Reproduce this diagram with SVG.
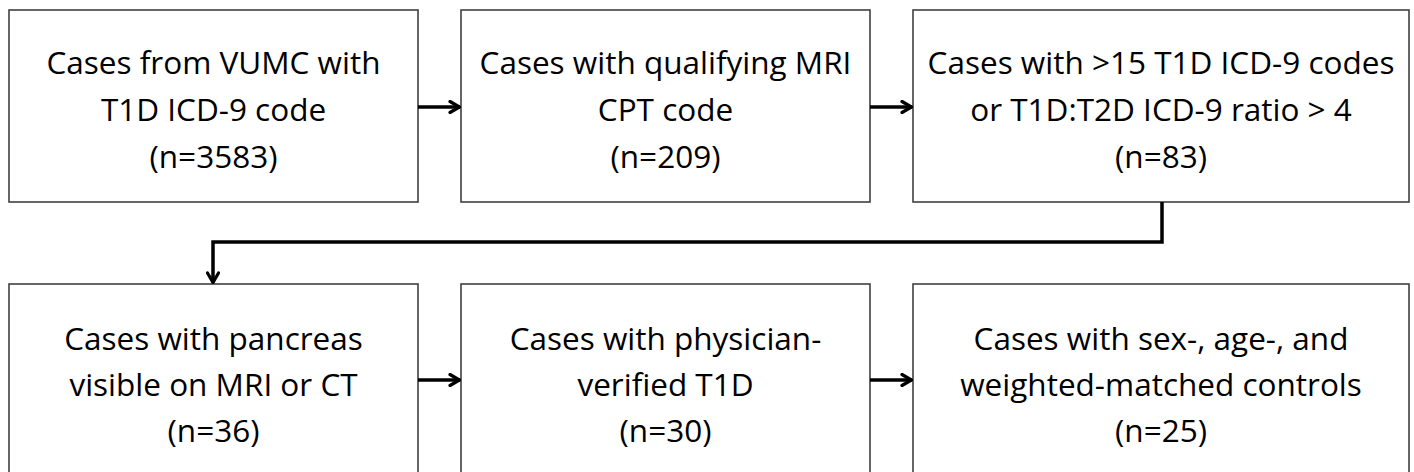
<svg xmlns="http://www.w3.org/2000/svg" width="1414" height="472" viewBox="0 0 1414 472">
<style>
.box{fill:#fff;stroke:#404040;stroke-width:1.6}
.t{font-family:"Open Sans","Liberation Sans",sans-serif;font-size:31.5px;fill:#000;text-anchor:middle}
.c{fill:none;stroke:#000;stroke-width:3.5}
</style>
<defs>
<marker id="ah" viewBox="0 0 14 14" refX="13" refY="7" markerWidth="14" markerHeight="14" markerUnits="userSpaceOnUse" orient="auto">
<path d="M3,1.5 L12.5,7 L3,12.5" fill="none" stroke="#000" stroke-width="3.2" stroke-linecap="round" stroke-linejoin="miter"/>
</marker>
</defs>
<rect width="1414" height="472" fill="#fff"/>
<g id="n1"><rect class="box" x="9" y="10" width="409" height="192"/>
<text class="t" x="213.5" y="74">Cases from VUMC with</text>
<text class="t" x="213.5" y="121">T1D ICD-9 code</text>
<text class="t" x="213.5" y="168">(n=3583)</text></g>
<g id="n2"><rect class="box" x="461" y="10" width="409" height="192"/>
<text class="t" x="665.5" y="74">Cases with qualifying MRI</text>
<text class="t" x="665.5" y="121">CPT code</text>
<text class="t" x="665.5" y="168">(n=209)</text></g>
<g id="n3"><rect class="box" x="913" y="10" width="496" height="192"/>
<text class="t" x="1161" y="74">Cases with &gt;15 T1D ICD-9 codes</text>
<text class="t" x="1161" y="121">or T1D:T2D ICD-9 ratio &gt; 4</text>
<text class="t" x="1161" y="168">(n=83)</text></g>
<g id="n4"><rect class="box" x="9" y="284" width="409" height="200"/>
<text class="t" x="213.5" y="350">Cases with pancreas</text>
<text class="t" x="213.5" y="396">visible on MRI or CT</text>
<text class="t" x="213.5" y="442">(n=36)</text></g>
<g id="n5"><rect class="box" x="461" y="284" width="409" height="200"/>
<text class="t" x="665.5" y="350">Cases with physician-</text>
<text class="t" x="665.5" y="396">verified T1D</text>
<text class="t" x="665.5" y="442">(n=30)</text></g>
<g id="n6"><rect class="box" x="913" y="284" width="496" height="200"/>
<text class="t" x="1161" y="350">Cases with sex-, age-, and</text>
<text class="t" x="1161" y="396">weighted-matched controls</text>
<text class="t" x="1161" y="442">(n=25)</text></g>
<g id="connectors">
<line class="c" x1="418" y1="107" x2="460" y2="107" marker-end="url(#ah)"/>
<line class="c" x1="870" y1="107" x2="912" y2="107" marker-end="url(#ah)"/>
<polyline class="c" points="1162,202 1162,242 213,242 213,283" marker-end="url(#ah)"/>
<line class="c" x1="418" y1="380" x2="460" y2="380" marker-end="url(#ah)"/>
<line class="c" x1="870" y1="380" x2="912" y2="380" marker-end="url(#ah)"/>
</g>
</svg>
